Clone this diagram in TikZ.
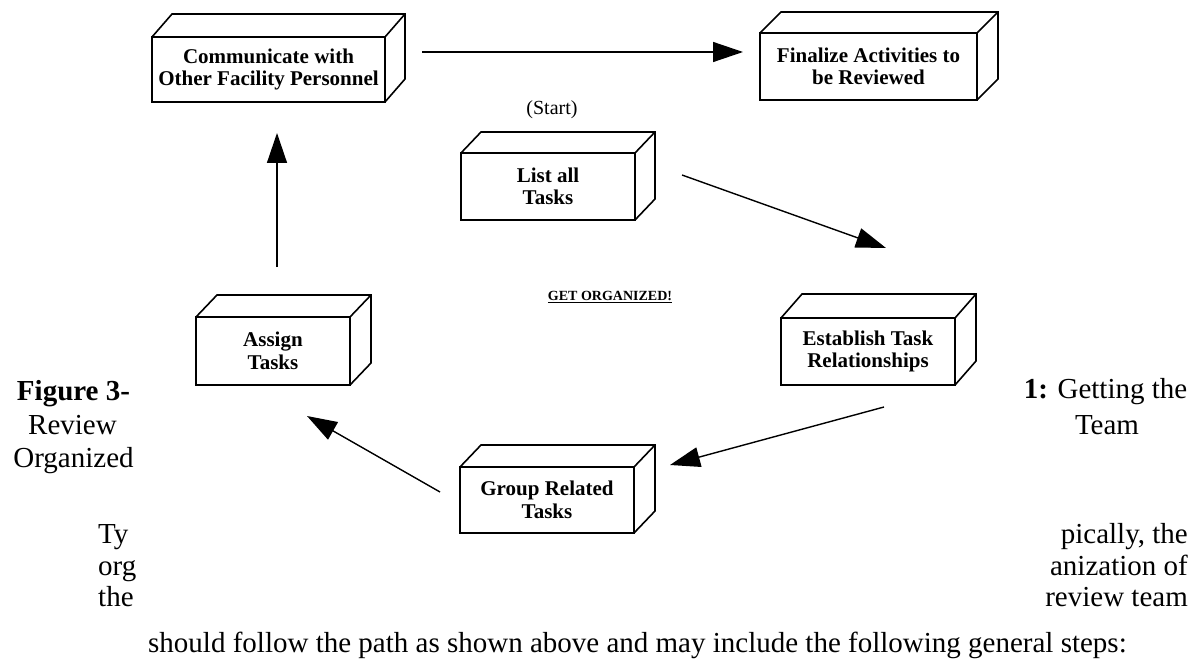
\documentclass[tikz,border=0pt]{standalone}
\usepackage{fontspec}
\setmainfont{Liberation Serif}
\usetikzlibrary{arrows.meta,calc}
\newcommand\cubefaces[3]{%
  \draw[cubeline] (#1.north west) -- ++(#2,-#3) -- ($(#1.north east)+(#2,-#3)$) -- ($(#1.south east)+(#2,-#3)$) -- (#1.south east);
  \draw[cubeline] (#1.north east) -- ++(#2,-#3);
}
\begin{document}
\begin{tikzpicture}[x=1pt,y=-1pt,
  cubeline/.style={line width=1.6pt, line join=miter},
  cubebox/.style 2 args={draw, line width=1.6pt, inner sep=0pt, outer sep=0pt,
     minimum width=#1, minimum height=#2, align=center,
     font=\fontsize{21}{22.5}\selectfont\bfseries},
  arr/.style={line width=1.4pt, -{Triangle[length=30pt,width=20pt]}},
  txt/.style={inner sep=0pt, font=\fontsize{29}{32}\selectfont},
  btxt/.style={inner sep=0pt, font=\fontsize{29}{32}\selectfont\bfseries}]
\useasboundingbox (0,0) rectangle (1194,663);

% boxes
\node[cubebox={233pt}{65pt}] (comm) at (268.5,69.5) {Communicate with\\Other Facility Personnel};
\cubefaces{comm}{20}{23}
\node[cubebox={217pt}{67pt}] (final) at (868.5,66.5) {Finalize Activities to\\be Reviewed};
\cubefaces{final}{21}{21}
\node[cubebox={174pt}{67pt}] (list) at (548,186.5) {List all\\Tasks};
\cubefaces{list}{20}{21}
\node[cubebox={154pt}{68pt}] (assign) at (273,351) {Assign\\Tasks};
\cubefaces{assign}{21}{22}
\node[cubebox={174pt}{67pt}] (establish) at (868,351.5) {Establish Task\\Relationships};
\cubefaces{establish}{21}{24}
\node[cubebox={174pt}{66pt}] (group) at (547,500) {Group Related\\Tasks};
\cubefaces{group}{21}{22}

% labels
\node[inner sep=0pt, font=\fontsize{20}{22}\selectfont] (start) at (552,110) {(Start)};
\node[inner sep=0pt, font=\fontsize{14}{16}\selectfont\bfseries] (getorg) at (610,297) {\underline{GET ORGANIZED!}};

% arrows
\draw[arr] ($(comm.east)+(37,-17.5)$) -- ($(final.west)+(-17,-14.5)$);
\draw[arr] ($(list.east)+(47,-11.5)$) -- ($(establish.north)+(18,-70)$);
\draw[arr] ($(establish.south)+(16,22)$) -- ($(group.north east)+(36,-2)$);
\draw[arr] ($(group.west)+(-20,-8)$) -- ($(assign.south)+(34,31)$);
\draw[arr] ($(assign.north)+(4,-50)$) -- ($(comm.south)+(8.5,31)$);

% caption
\node[btxt, anchor=base] (fig) at (73.5,400) {Figure 3-};
\node[txt, anchor=base] (rev) at (72.5,434) {Review};
\node[txt, anchor=base] (orgd) at (73.5,467) {Organized};
\node[txt, anchor=base] (cap1) at (1105.5,398) {\textbf{1:} Getting the};
\node[txt, anchor=base] (team) at (1107,434) {Team};

% body text
\node[txt, anchor=base west] (t1a) at (98,543) {Ty};
\node[txt, anchor=base east] (t1b) at (1188,543) {pically, the};
\node[txt, anchor=base west] (t2a) at (98,575) {org};
\node[txt, anchor=base east] (t2b) at (1188,575) {anization of};
\node[txt, anchor=base west] (t3a) at (98,606) {the};
\node[txt, anchor=base east] (t3b) at (1188,606) {review team};
\node[txt, anchor=base west] (t4) at (148,652) {should follow the path as shown above and may include the following general steps:};
\end{tikzpicture}
\end{document}
